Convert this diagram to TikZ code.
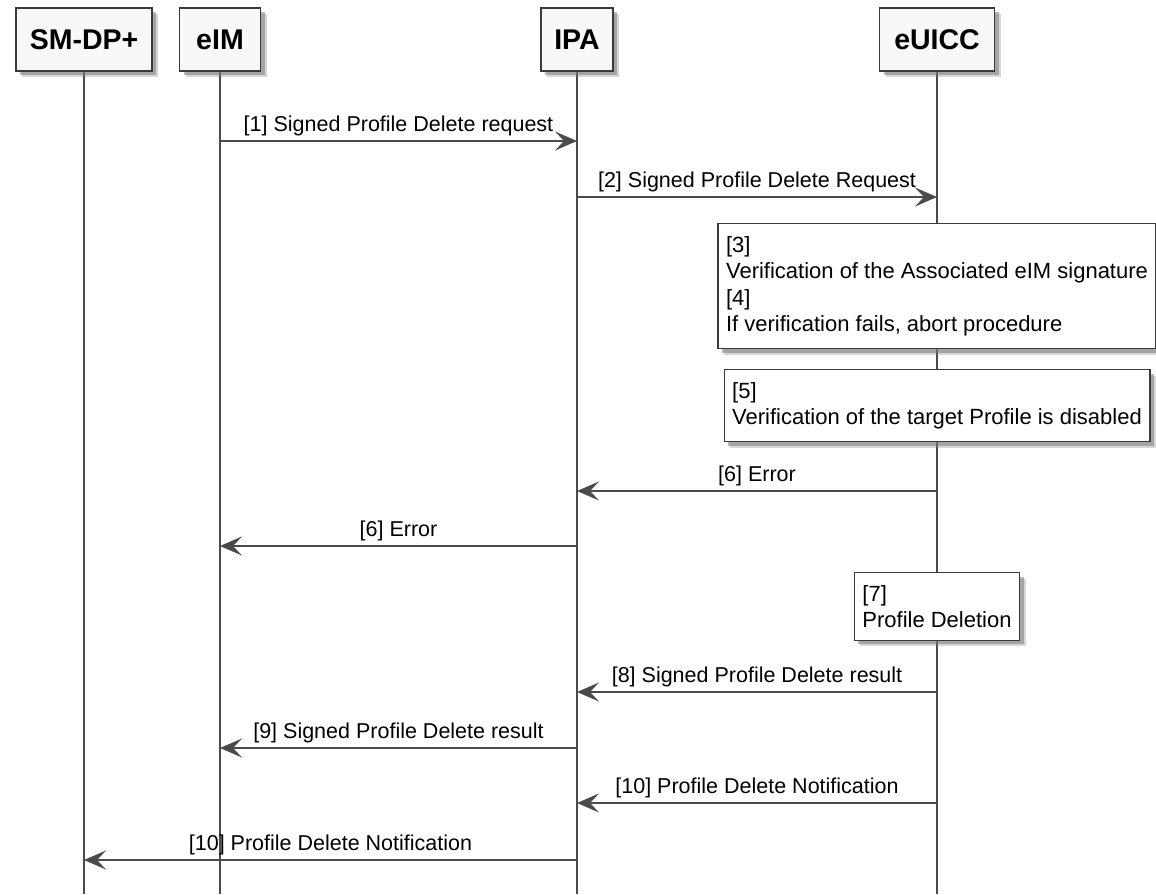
\documentclass[tikz,border=0pt]{standalone}
\usepackage{fontspec}
\setmainfont{Liberation Sans}
\usepackage{xcolor}
\usepackage{tikz}
\usetikzlibrary{arrows.meta,positioning,shadows,backgrounds}
\definecolor{linegray}{HTML}{4A4A4A}
\definecolor{boxline}{HTML}{3A3A3A}
\definecolor{boxfill}{HTML}{F8F8F8}
\definecolor{shadowgray}{HTML}{7A7A7A}

\begin{document}
\begin{tikzpicture}[x=1pt,y=-1pt,
    every node/.style={font=\fontsize{21.5}{26}\selectfont},
    soft shadow/.style={drop shadow={shadow xshift=6pt,shadow yshift=-6pt,fill=shadowgray,opacity=0.3},
      drop shadow={shadow xshift=4pt,shadow yshift=-4pt,fill=shadowgray,opacity=0.55}},
    actor/.style={draw=boxline,line width=1.6pt,fill=boxfill,minimum height=63pt,
      font=\bfseries\fontsize{28.5}{31}\selectfont,soft shadow},
    note/.style={draw=boxline,line width=1.3pt,fill=white,anchor=north,align=left,
      inner xsep=8pt,inner ysep=12.5pt,font=\fontsize{22}{26.5}\selectfont,soft shadow},
    lifeline/.style={draw=linegray,line width=1.5pt},
    msg/.style={draw=linegray,line width=1.5pt,-{Stealth[length=22pt,width=19pt,inset=9pt]}},
    lbl/.style={anchor=base,yshift=9.5pt,inner sep=0pt}]
    \useasboundingbox (0,0) rectangle (1156,894);

    % participants
    \node[actor,minimum width=136pt] (smdp) at (84,39.5) {SM-DP+};
    \node[actor,minimum width=81pt] (eim) at (220,39.5) {eIM};
    \node[actor,minimum width=72pt] (ipa) at (577,39.5) {IPA};
    \node[actor,minimum width=115pt] (euicc) at (937,39.5) {eUICC};

    \begin{scope}[on background layer]
      \draw[lifeline] (smdp) -- (smdp |- 0,894);
      \draw[lifeline] (eim) -- (eim |- 0,894);
      \draw[lifeline] (ipa) -- (ipa |- 0,894);
      \draw[lifeline] (euicc) -- (euicc |- 0,894);
    \end{scope}

    % notes on the eUICC
    \node[note] (verify) at (euicc |- 0,223) {[3]\\Verification of the Associated eIM signature\\{[4]}\\If verification fails, abort procedure};
    \node[note] (check) at (euicc |- 0,369) {[5]\\Verification of the target Profile is disabled};
    \node[note] (deletion) at (euicc |- 0,572) {[7]\\Profile Deletion};

    % messages
    \draw[msg] (eim |- 0,141) -- node[lbl]{[1] Signed Profile Delete request} (ipa |- 0,141);
    \draw[msg] (ipa |- 0,197) -- node[lbl]{[2] Signed Profile Delete Request} (euicc |- 0,197);
    \draw[msg] (euicc |- 0,491) -- node[lbl]{[6] Error} (ipa |- 0,491);
    \draw[msg] (ipa |- 0,546) -- node[lbl]{[6] Error} (eim |- 0,546);
    \draw[msg] (euicc |- 0,692) -- node[lbl]{[8] Signed Profile Delete result} (ipa |- 0,692);
    \draw[msg] (ipa |- 0,748) -- node[lbl]{[9] Signed Profile Delete result} (eim |- 0,748);
    \draw[msg] (euicc |- 0,803) -- node[lbl]{[10] Profile Delete Notification} (ipa |- 0,803);
    \draw[msg] (ipa |- 0,860) -- node[lbl]{[10] Profile Delete Notification} (smdp |- 0,860);
\end{tikzpicture}
\end{document}
